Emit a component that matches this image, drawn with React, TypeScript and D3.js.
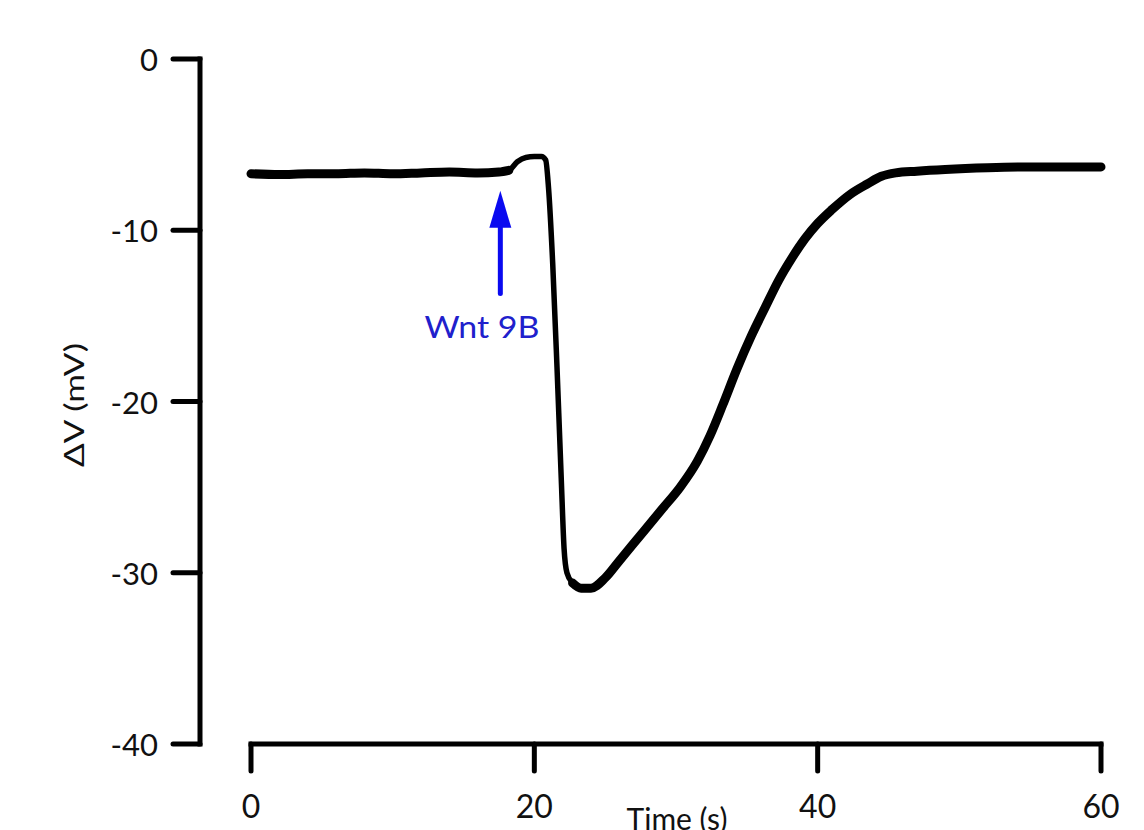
import React from "react";
import * as d3 from "d3";

const timeS = [0, 2, 4, 6, 8, 10, 12, 14, 16, 17.5, 18.2, 18.8, 19.4, 20.0, 20.5, 20.8, 21.0, 21.3, 21.6, 21.9, 22.1, 22.3, 22.7, 23.3, 24.0, 25.0, 26.0, 27.5, 29.0, 30.3, 31.5, 32.4, 33.3, 34.3, 35.3, 36.3, 37.2, 38.2, 39.1, 40.0, 41.0, 42.3, 43.5, 44.5, 45.5, 47, 49, 52, 55, 58, 60];
const deltaV = [-6.7, -6.75, -6.7, -6.7, -6.65, -6.7, -6.65, -6.6, -6.65, -6.6, -6.5, -6.0, -5.75, -5.7, -5.7, -5.9, -7.5, -12, -18, -24.5, -28.6, -30.0, -30.6, -30.9, -30.9, -30.3, -29.3, -27.8, -26.3, -25.0, -23.5, -22.0, -20.2, -18.1, -16.2, -14.5, -13.0, -11.6, -10.5, -9.6, -8.8, -7.9, -7.3, -6.85, -6.65, -6.55, -6.45, -6.35, -6.3, -6.3, -6.3];

// time windows where the recording is visibly noisy (drawn as a thicker band)
const noisyWindows = [
  [0, 18.2],
  [22.5, 60],
];

const xTicks = [0, 20, 40, 60];
const yTicks = [0, -10, -20, -30, -40];

const arrowTime = 17.6;
const arrowTipV = -7.7;
const arrowTailV = -13.7;
const arrowLabel = "Wnt 9B";
const xTitle = "Time (s)";
const yTitle = "ΔV (mV)";

export default function App() {
  const W = 1144, H = 830;
  const x = d3.scaleLinear().domain([0, 60]).range([251, 1101]);
  const y = d3.scaleLinear().domain([0, -40]).range([59, 744]);
  const yAxisX = 200;
  const xAxisY = 744;
  const tickLen = 27;
  const font = "Lato, 'Open Sans', sans-serif";

  const data = timeS.map((t, i) => [t, deltaV[i]] as [number, number]);
  const line = d3
    .line<[number, number]>()
    .x((d) => x(d[0]))
    .y((d) => y(d[1]))
    .curve(d3.curveMonotoneX);

  const yDomain = y.domain();
  const xDomain = x.domain();

  const ax = x(arrowTime);
  const tipY = y(arrowTipV);
  const headBase = tipY + 37;

  return (
    <svg width={W} height={H} style={{ position: "absolute", left: 0, top: 0, background: "#fff" }}>
      {/* Y axis */}
      <line x1={yAxisX} x2={yAxisX} y1={y(yDomain[0])} y2={y(yDomain[1])} stroke="#000" strokeWidth={5} strokeLinecap="square" />
      {yTicks.map((v) => (
        <g key={v}>
          <line x1={yAxisX - tickLen} x2={yAxisX} y1={y(v)} y2={y(v)} stroke="#000" strokeWidth={5} strokeLinecap="round" />
          <text x={yAxisX - 42} y={y(v)} textAnchor="end" dominantBaseline="central" fontFamily={font} fontSize={31} fill="#111">
            {v}
          </text>
        </g>
      ))}
      {/* X axis */}
      <line x1={x(xDomain[0])} x2={x(xDomain[1])} y1={xAxisY} y2={xAxisY} stroke="#000" strokeWidth={5} strokeLinecap="square" />
      {xTicks.map((t) => (
        <g key={t}>
          <line x1={x(t)} x2={x(t)} y1={xAxisY} y2={xAxisY + tickLen} stroke="#000" strokeWidth={5} strokeLinecap="round" />
          <text x={x(t)} y={805} textAnchor="middle" dominantBaseline="central" fontFamily={font} fontSize={32} fill="#111">
            {t}
          </text>
        </g>
      ))}
      <text x={677} y={830} textAnchor="middle" fontFamily={font} fontSize={30} fill="#111">
        {xTitle}
      </text>
      <text
        transform={`translate(73,405) rotate(-90)`}
        textAnchor="middle"
        dominantBaseline="central"
        fontFamily={font}
        fontSize={27}
        textLength={124}
        lengthAdjust="spacingAndGlyphs"
        fill="#111"
      >
        {yTitle}
      </text>
      {/* trace */}
      <path d={line(data) || ""} fill="none" stroke="#000" strokeWidth={5.5} strokeLinejoin="round" strokeLinecap="round" />
      {noisyWindows.map(([a, b], i) => (
        <path
          key={i}
          d={line(data.filter((d) => d[0] >= a && d[0] <= b)) || ""}
          fill="none"
          stroke="#000"
          strokeWidth={9}
          strokeLinejoin="round"
          strokeLinecap="round"
        />
      ))}
      {/* arrow */}
      <line x1={ax} x2={ax} y1={headBase - 2} y2={y(arrowTailV)} stroke="#0a0af0" strokeWidth={5} strokeLinecap="round" />
      <path d={`M${ax},${tipY} L${ax + 11},${headBase} L${ax - 11},${headBase} Z`} fill="#0a0af0" />
      <text x={482} y={326} textAnchor="middle" dominantBaseline="central" fontFamily={font} fontSize={31} textLength={115} lengthAdjust="spacingAndGlyphs" fill="#2020cc">
        {arrowLabel}
      </text>
    </svg>
  );
}
